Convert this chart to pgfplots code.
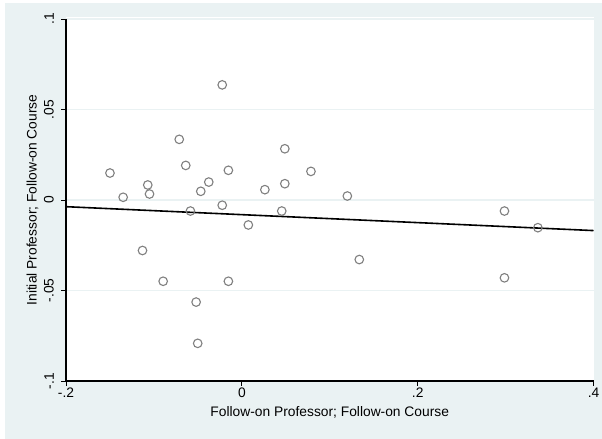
\documentclass[border=0pt]{standalone}
\usepackage{fontspec}
\setmainfont{Liberation Sans}
\usepackage{pgfplots}
\pgfplotsset{compat=1.18}
\definecolor{bg}{RGB}{234,242,243}
\definecolor{mk}{RGB}{128,128,128}
\begin{document}
\begin{tikzpicture}[x=1bp,y=1bp]
\useasboundingbox (0,0) rectangle (602,439);
\fill[white] (0,0) rectangle (602,439);
\fill[bg] (5,0) rectangle (602,436);
\fill[white] (66,58) rectangle (593.5,422);
\begin{axis}[
  at={(66bp,58bp)}, anchor=south west,
  scale only axis, width=527.5bp, height=362bp,
  xmin=-0.2, xmax=0.4, ymin=-0.1, ymax=0.1,
  axis x line*=bottom, axis y line*=left,
  axis line style={black, line width=1.1bp, -},
  xtick={-0.2,0,0.2,0.4}, xticklabels={-.2,0,.2,.4},
  ytick={-0.1,-0.05,0,0.05,0.1}, yticklabels={-.1,-.05,0,.05,.1},
  tick align=outside, major tick length=5bp,
  tick style={black, line width=0.9bp},
  ymajorgrids, major grid style={bg, line width=1.1bp},
  /pgf/number format/assume math mode=true,
  tick label style={font=\fontsize{13.8bp}{16bp}\selectfont},
  label style={font=\fontsize{13.8bp}{16bp}\selectfont},
  yticklabel style={xshift=-6bp, rotate=90, anchor=south, inner sep=1bp},
  xticklabel style={anchor=north, inner sep=2bp},
  xlabel={Follow-on Professor; Follow-on Course},
  ylabel={Initial Professor; Follow-on Course},
  xlabel style={at={(axis description cs:0.5,0)}, anchor=center, yshift=-31bp},
  ylabel style={at={(axis description cs:0,0.5)}, anchor=center, yshift=33.4bp},
  clip=false,
]
\addplot[only marks, mark=o, mark size=4.3bp, mk, line width=1.1bp] coordinates {
(-0.150,0.0149) (-0.135,0.0015) (-0.107,0.0083) (-0.105,0.0033)
(-0.113,-0.0279) (-0.0895,-0.0449) (-0.0712,0.0335) (-0.0638,0.0191)
(-0.0585,-0.0061) (-0.0467,0.0048) (-0.0376,0.0099) (-0.052,-0.0564)
(-0.0502,-0.0792) (-0.0223,0.0636) (-0.0223,-0.0029) (-0.0153,0.0164)
(-0.0153,-0.0449) (0.0074,-0.0138) (0.0262,0.0057) (0.0454,-0.0061)
(0.0489,0.0283) (0.0489,0.0090) (0.0786,0.0158) (0.120,0.0022)
(0.1336,-0.0329) (0.2987,-0.0061) (0.2987,-0.0430) (0.3367,-0.0153)
};
\addplot[black, line width=1.6bp, no marks] coordinates {(-0.2,-0.0037) (0.4,-0.0169)};
\end{axis}
\end{tikzpicture}
\end{document}
